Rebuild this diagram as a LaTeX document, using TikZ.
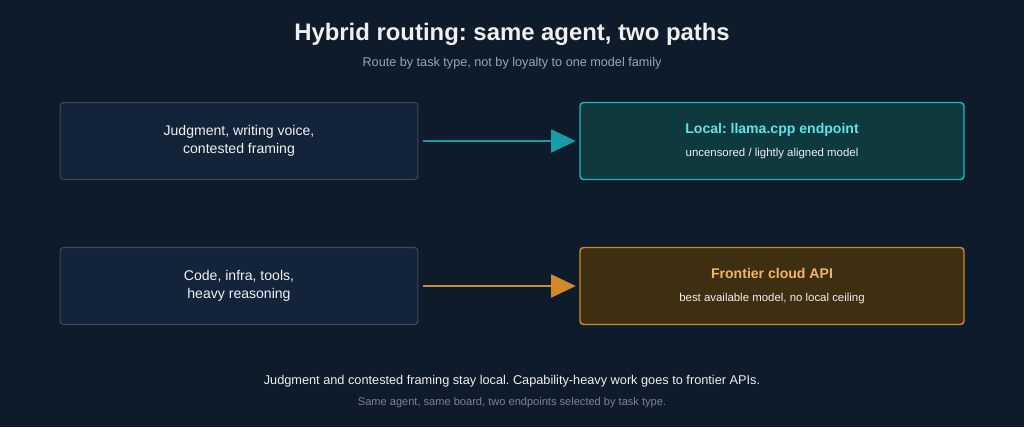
\documentclass[tikz,border=0pt]{standalone}
\usepackage{fontspec}
\setmainfont{Liberation Sans}
\frenchspacing
\usetikzlibrary{positioning, arrows.meta}
\definecolor{bgc}{HTML}{0D1B2A}
\definecolor{boxfill}{HTML}{13243A}
\definecolor{boxline}{HTML}{3A4B5C}
\definecolor{tealfill}{HTML}{0E3A3D}
\definecolor{tealline}{HTML}{1FB8C3}
\definecolor{tealtext}{HTML}{5FE3E8}
\definecolor{orfill}{HTML}{3E2E12}
\definecolor{orline}{HTML}{D08A2A}
\definecolor{ortext}{HTML}{F2B466}
\definecolor{subgray}{HTML}{9AA6B2}

\begin{document}
\begin{tikzpicture}[
  x=0.02cm, y=-0.02cm,
  >=Triangle,
  every node/.style={font=\fontsize{8}{10}\selectfont, text=white!88!gray},
  taskbox/.style={draw=boxline, fill=boxfill, rounded corners=2pt, line width=0.6pt,
    minimum width=7.16cm, minimum height=1.54cm, align=center},
  endbox/.style={rounded corners=2pt, line width=0.8pt,
    minimum width=7.68cm, minimum height=1.54cm, align=center},
  route/.style={line width=1.3pt, -{Triangle[length=14pt, width=13pt]}}
]
\fill[bgc] (0,0) rectangle (1024,427);
\useasboundingbox (0,0) rectangle (1024,427);

% Heading
\node[font=\fontsize{13.6}{15}\selectfont\bfseries] (title) at (512,34) {Hybrid routing: same agent, two paths};
\node[font=\fontsize{7.2}{8}\selectfont, text=subgray] (sub) at (512,63) {Route by task type, not by loyalty to one model family};

% Task boxes
\node[taskbox] (judg) at (239,141) {Judgment, writing voice,\\contested framing};
\node[taskbox] (code) at (239,286) {Code, infra, tools,\\heavy reasoning};

% Endpoints
\node[endbox, draw=tealline, fill=tealfill] (local) at (772,141)
  {{\bfseries\color{tealtext}Local: llama.cpp endpoint}\\[3pt]{\fontsize{6.5}{8}\selectfont uncensored / lightly aligned model}};
\node[endbox, draw=orline, fill=orfill] (cloud) at (772,286)
  {{\bfseries\color{ortext}Frontier cloud API}\\[3pt]{\fontsize{6.5}{8}\selectfont best available model, no local ceiling}};

% Routes
\draw[route, tealline!85!black] (judg.east) ++(5,0) -- ([xshift=-2]local.west);
\draw[route, orline] (code.east) ++(5,0) -- ([xshift=-2]cloud.west);

% Footer
\node[font=\fontsize{7.25}{8}\selectfont] (note) at (512,381) {Judgment and contested framing stay local. Capability-heavy work goes to frontier APIs.};
\node[font=\fontsize{6.3}{7}\selectfont, text=subgray!80!black] (note2) at (512,403) {Same agent, same board, two endpoints selected by task type.};
\end{tikzpicture}
\end{document}
